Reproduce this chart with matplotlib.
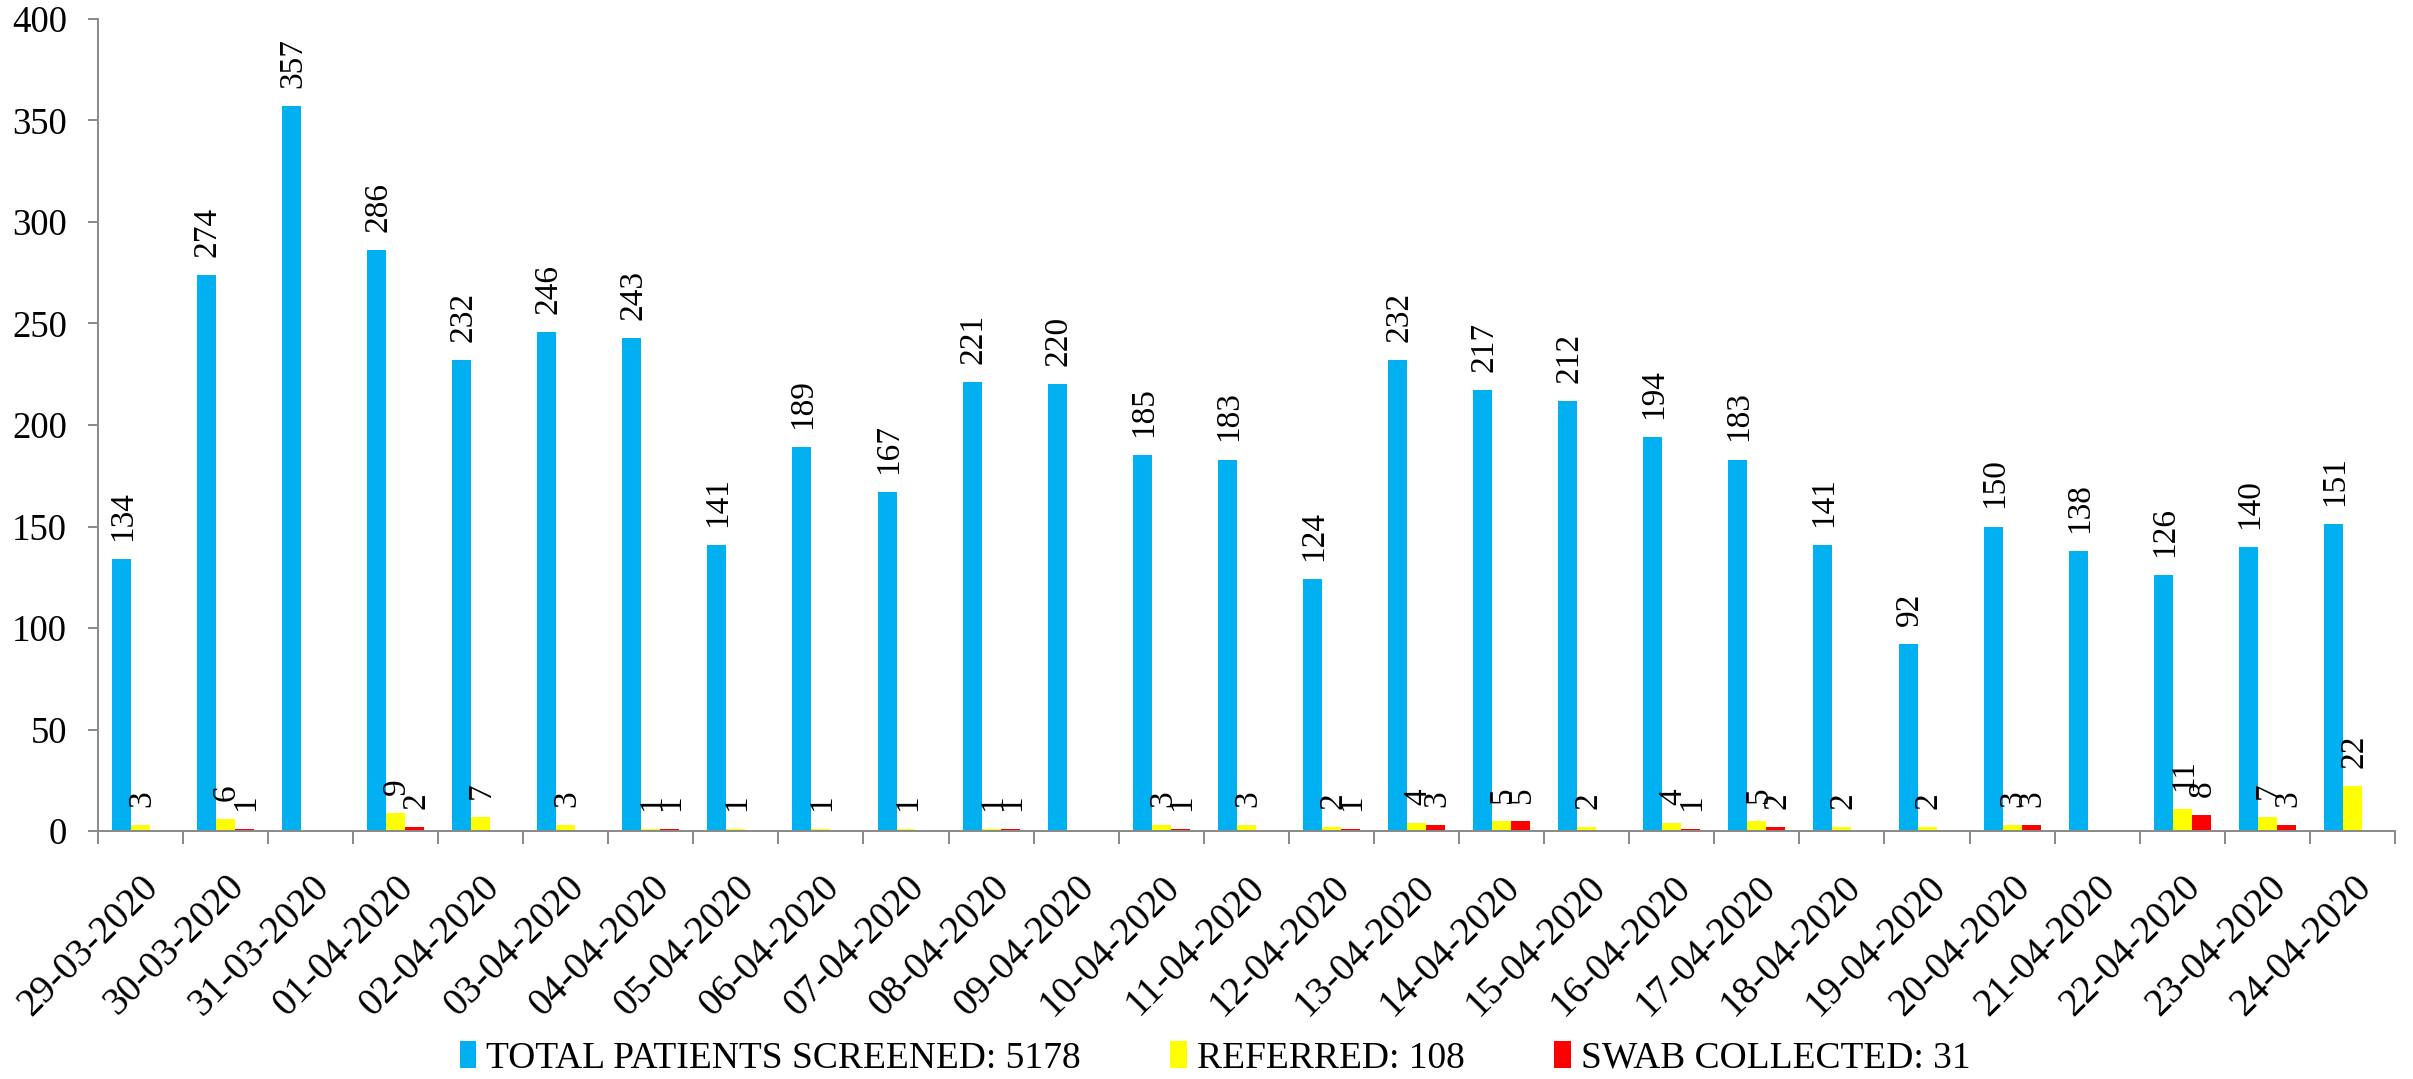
import matplotlib
matplotlib.use("Agg")
import matplotlib.pyplot as plt
import numpy as np

plt.rcParams['font.family'] = ['Liberation Serif', 'DejaVu Serif']

dates = ["29-03-2020", "30-03-2020", "31-03-2020", "01-04-2020", "02-04-2020",
         "03-04-2020", "04-04-2020", "05-04-2020", "06-04-2020", "07-04-2020",
         "08-04-2020", "09-04-2020", "10-04-2020", "11-04-2020", "12-04-2020",
         "13-04-2020", "14-04-2020", "15-04-2020", "16-04-2020", "17-04-2020",
         "18-04-2020", "19-04-2020", "20-04-2020", "21-04-2020", "22-04-2020",
         "23-04-2020", "24-04-2020"]
total = [134, 274, 357, 286, 232, 246, 243, 141, 189, 167, 221, 220, 185, 183,
         124, 232, 217, 212, 194, 183, 141, 92, 150, 138, 126, 140, 151]
referred = [3, 6, 0, 9, 7, 3, 1, 1, 1, 1, 1, 0, 3, 3, 2, 4, 5, 2, 4, 5, 2, 2,
            3, 0, 11, 7, 22]
swab = [0, 1, 0, 2, 0, 0, 1, 0, 0, 0, 1, 0, 1, 0, 1, 3, 5, 0, 1, 2, 0, 0, 3,
        0, 8, 3, 0]
legend_labels = ["TOTAL PATIENTS SCREENED: 5178", "REFERRED: 108",
                 "SWAB COLLECTED: 31"]
yticks = [0, 50, 100, 150, 200, 250, 300, 350, 400]

colors = ["#00B0F0", "#FFFF00", "#FF0000"]
series = [total, referred, swab]

fig = plt.figure(figsize=(24.13, 10.79), dpi=100)
ax = fig.add_axes([97.7 / 2413, 1 - 831 / 1079, (2395 - 97.7) / 2413, (831 - 19) / 1079])

x = np.arange(len(dates))
w = 0.223
handles = []
for i, (vals, c) in enumerate(zip(series, colors)):
    bars = ax.bar(x + (i - 1) * w, vals, width=w, color=c, edgecolor='none')
    handles.append(bars)
    for xi, v in zip(x + (i - 1) * w, vals):
        if v:
            ax.annotate(str(v), (xi, v), xytext=(1, 13), textcoords='offset points',
                        rotation=90, ha='center', va='bottom', fontsize=24)

ax.set_xlim(-0.5, len(dates) - 0.5)
ax.set_ylim(0, 400)
ax.set_yticks(yticks)
ax.tick_params(axis='y', length=7, width=1.4, color='#898989', pad=15, labelsize=26.5)

ax.set_xticks(x)
ax.set_xticklabels(dates, rotation=45, ha='right', rotation_mode='anchor', fontsize=28)
ax.tick_params(axis='x', which='major', length=0, pad=27)
ax.set_xticks(np.arange(len(dates) + 1) - 0.5, minor=True)
ax.tick_params(axis='x', which='minor', length=9, width=1.4, color='#898989')

for s in ['top', 'right']:
    ax.spines[s].set_visible(False)
for s in ['left', 'bottom']:
    ax.spines[s].set_color('#898989')
    ax.spines[s].set_linewidth(1.4)

fig.legend(handles, legend_labels, loc='center', bbox_to_anchor=(0.5035, 0.019),
           ncol=3, frameon=False, fontsize=27, handlelength=0.45, handleheight=0.7,
           handletextpad=0.25, columnspacing=2.4)

fig.savefig("out.png", dpi=100)
